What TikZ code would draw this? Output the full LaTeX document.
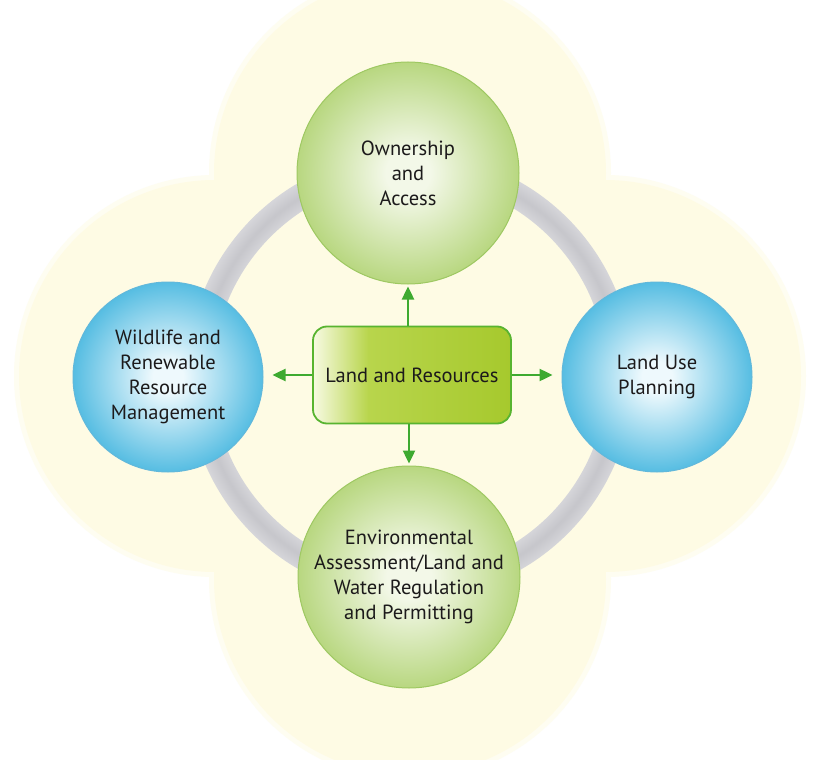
\documentclass[tikz,border=0pt]{standalone}
\usepackage{fontspec}
\setmainfont{PT Sans}
\usepackage{tikz}
\usetikzlibrary{shapes,arrows,arrows.meta,fit,positioning}

\definecolor{cream}{RGB}{254,251,228}
\definecolor{creamedge}{RGB}{254,253,241}
\definecolor{grnin}{RGB}{243,248,232}
\definecolor{grnout}{RGB}{184,215,128}
\definecolor{grnline}{RGB}{158,200,98}
\definecolor{bluin}{RGB}{238,249,253}
\definecolor{bluout}{RGB}{86,189,226}
\definecolor{bluline}{RGB}{98,184,219}
\definecolor{boxl}{RGB}{247,250,226}
\definecolor{boxm}{RGB}{184,213,76}
\definecolor{boxr}{RGB}{166,201,45}
\definecolor{boxline}{RGB}{88,180,48}
\definecolor{arrgreen}{RGB}{62,170,48}
\definecolor{ringin}{RGB}{214,214,218}
\definecolor{ringout}{RGB}{198,198,203}
\definecolor{txt}{RGB}{28,26,27}

\pgfdeclareradialshading{greenball}{\pgfpoint{0bp}{0bp}}{color(0bp)=(grnin); color(5bp)=(grnin); color(25bp)=(grnout); color(50bp)=(grnout)}
\pgfdeclareradialshading{blueball}{\pgfpoint{0bp}{0bp}}{color(0bp)=(bluin); color(4bp)=(bluin); color(25bp)=(bluout); color(50bp)=(bluout)}
\pgfdeclareradialshading{ringgrad}{\pgfpoint{0bp}{0bp}}{color(0bp)=(ringin); color(22bp)=(ringin); color(23.5bp)=(ringout); color(25bp)=(ringin); color(50bp)=(ringin)}
\pgfdeclarehorizontalshading{boxgrad}{100bp}{color(0bp)=(boxl); color(25bp)=(boxl); color(39bp)=(boxm); color(75bp)=(boxr); color(100bp)=(boxr)}

\tikzset{
  every node/.style={text=txt, font=\fontsize{20.5}{25}\selectfont, align=center},
  topic/.style={circle, inner sep=0pt, line width=1pt},
  greentopic/.style={topic, minimum size=222pt, draw=grnline, shading=greenball},
  bluetopic/.style={topic, minimum size=190pt, draw=bluline, shading=blueball},
  hub/.style={rounded corners=14pt, minimum width=198pt, minimum height=97pt,
    draw=boxline, line width=1.8pt, shading=boxgrad},
  link/.style={draw=arrgreen, line width=2.4pt, -{Triangle[length=13pt,width=12pt]}, shorten >=2pt},
  sidelink/.style={link, shorten >=9pt}
}

\begin{document}
\begin{tikzpicture}[x=1pt,y=-1pt]
\clip (0,0) rectangle (817,760);
\useasboundingbox (0,0) rectangle (817,760);
\fill[white] (0,0) rectangle (817,760);

% cream backdrop and grey ring
\fill[creamedge] (215,376) circle (201) (605,376) circle (201) (410,173) circle (201) (410,579) circle (201);
\fill[cream] (215,376) circle (196) (605,376) circle (196) (410,173) circle (196) (410,579) circle (196);
\shade[shading=ringgrad, even odd rule] (410,376) circle (223) (410,376) circle (197);

\node[greentopic] (own) at (408,173) {Ownership\\and\\Access};
\node[greentopic] (envir) at (409,577) {Environmental\\Assessment/Land and\\Water Regulation\\and Permitting};
\node[bluetopic] (wild) at (168,377) {Wildlife and\\Renewable\\Resource\\Management};
\node[bluetopic] (landuse) at (657,377) {Land Use\\Planning};
\node[hub] (landres) at (412,375) {Land and Resources};

\draw[link] (landres.north -| own) -- (own.south);
\draw[link] (landres.south -| envir) -- (envir.north);
\draw[sidelink] (landres.west) -- (wild.east |- landres.west);
\draw[sidelink] (landres.east) -- (landuse.west |- landres.east);
\end{tikzpicture}
\end{document}
